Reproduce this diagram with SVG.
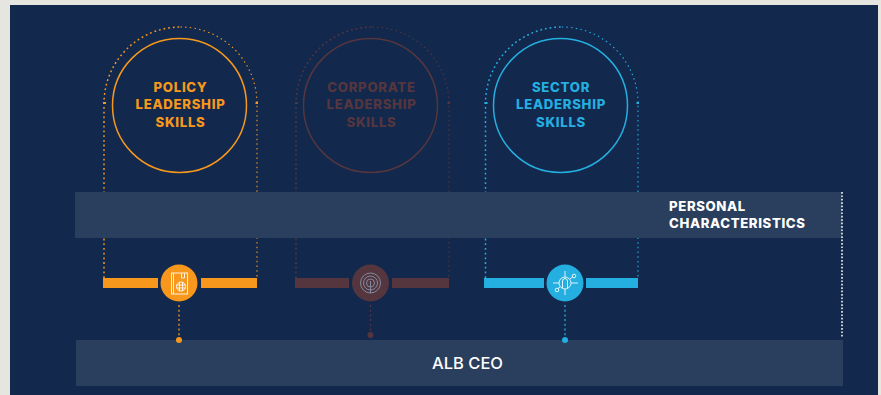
<svg xmlns="http://www.w3.org/2000/svg" width="881" height="395" viewBox="0 0 881 395">
<style>
.lbl{font-family:Inter,"Liberation Sans",Arial,sans-serif;font-weight:800;font-size:13.2px;letter-spacing:.7px;text-anchor:middle}
.side{font-family:Inter,"Liberation Sans",Arial,sans-serif;font-weight:800;font-size:13.2px;letter-spacing:.62px;fill:#fff}
.archL{fill:none;stroke-width:1.500;stroke-dasharray:1.800 2.900}
.archR{fill:none;stroke-width:1.100;stroke-dasharray:1.500 3.200}
.drop{fill:none;stroke-width:1.300;stroke-dasharray:2 2.700}
.ring{fill:none;stroke-width:1.500}
.ic{fill:none;stroke:#fff;stroke-width:1;opacity:.85}
.band{fill:#2a3f5d}
</style>
<rect width="881" height="395" fill="#e6e6e1"/>
<rect x="10" y="5" width="868" height="390" fill="#12284c"/>
<g id="connectors">
<path class="archL" stroke="#f7981d" d="M104 278V103.500A76.500 76.500 0 0 1 180.500 27"/>
<path class="archR" stroke="#f7981d" d="M180.500 27A76.500 76.500 0 0 1 257 103.500V278"/>
<rect x="103" y="102" width="3" height="2" fill="#f7981d"/><rect x="255.500" y="102" width="2.500" height="2" fill="#f7981d"/>
<path class="drop" stroke="#f7981d" d="M179 305V338"/>
<path class="archL" stroke="#55363f" d="M296 278V103.500A76.500 76.500 0 0 1 372.500 27"/>
<path class="archR" stroke="#55363f" d="M372.500 27A76.500 76.500 0 0 1 449 103.500V278"/>
<rect x="295" y="102" width="3" height="2" fill="#55363f"/><rect x="447.500" y="102" width="2.500" height="2" fill="#55363f"/>
<path class="drop" stroke="#55363f" d="M370.500 305V333"/>
<path class="archL" stroke="#25aee0" d="M485.500 278V103.500A76.250 76.250 0 0 1 561.750 27"/>
<path class="archR" stroke="#25aee0" d="M561.750 27A76.250 76.250 0 0 1 638 103.500V278"/>
<rect x="484.500" y="102" width="3" height="2" fill="#25aee0"/><rect x="636.500" y="102" width="2.500" height="2" fill="#25aee0"/>
<path class="drop" stroke="#25aee0" d="M565 305V338"/>
</g>
<g id="personal-characteristics">
<rect class="band" x="75" y="192" width="767" height="46"/>
<text class="side" x="669" y="211">PERSONAL</text>
<text class="side" x="669" y="228">CHARACTERISTICS</text>
</g>
<g id="alb-ceo">
<rect class="band" x="76" y="340" width="767" height="46"/>
<text x="467.500" y="369" font-family="Inter,Liberation Sans,Arial,sans-serif" font-weight="500" font-size="16.500" fill="#fff" text-anchor="middle">ALB CEO</text>
</g>
<g id="end-dots">
<circle cx="179" cy="340" r="3" fill="#f7981d"/>
<circle cx="370.500" cy="335" r="3" fill="#55363f"/>
<circle cx="565" cy="340" r="3" fill="#25aee0"/>
<path fill="none" stroke="#fff" stroke-width="1.500" stroke-dasharray="1.700 1.700" d="M842 192V338"/>
</g>
<g id="policy-leadership-skills">
<circle class="ring" cx="179.500" cy="105.500" r="67" stroke="#f7981d"/>
<g class="lbl" fill="#f7981d"><text x="180.500" y="92">POLICY</text><text x="180.500" y="109">LEADERSHIP</text><text x="180.500" y="127">SKILLS</text></g>
</g>
<g id="policy-icon">
<rect x="103" y="278" width="55" height="10" fill="#f7981d"/><rect x="201" y="278" width="56" height="10" fill="#f7981d"/>
<circle cx="179" cy="283" r="18.500" fill="#f7981d"/>
<rect class="ic" x="171.500" y="273" width="16" height="21"/><path class="ic" d="M173.500 273V294M181.500 273V278H184.500V273"/>
<circle class="ic" cx="181" cy="286.500" r="4.500"/><path class="ic" d="M176.500 285H185.500M176.500 288H185.500M179.500 282V291M182.500 282V291"/>
</g>
<g id="corporate-leadership-skills">
<circle class="ring" cx="370.500" cy="105.500" r="67" stroke="#55363f"/>
<g class="lbl" fill="#55363f"><text x="371.500" y="92">CORPORATE</text><text x="371.500" y="109">LEADERSHIP</text><text x="371.500" y="127">SKILLS</text></g>
</g>
<g id="corporate-icon">
<rect x="295" y="278" width="54" height="10" fill="#55363f"/><rect x="392" y="278" width="57" height="10" fill="#55363f"/>
<circle cx="370.500" cy="283" r="18.500" fill="#55363f"/>
<g fill="none" stroke="#7f8aa0" stroke-width="1"><circle cx="370.500" cy="283" r="10"/><circle cx="370.500" cy="283" r="7"/><circle cx="370.500" cy="283" r="4"/><path d="M370.500 281V293"/></g>
</g>
<g id="sector-leadership-skills">
<circle class="ring" cx="560.500" cy="105.500" r="67" stroke="#25aee0"/>
<g class="lbl" fill="#25aee0"><text x="561" y="92">SECTOR</text><text x="561" y="109">LEADERSHIP</text><text x="561" y="127">SKILLS</text></g>
</g>
<g id="sector-icon">
<rect x="484" y="278" width="60" height="10" fill="#25aee0"/><rect x="586" y="278" width="52" height="10" fill="#25aee0"/>
<circle cx="565" cy="283" r="18.500" fill="#25aee0"/>
<circle class="ic" cx="565" cy="283" r="6"/><path class="ic" d="M562.500 288V281A2.500 2.500 0 0 1 567.500 281V288M565 271V277M565 289V295M553 283H559M571 283H578M558 288.500L560 287M570 279L573 276.500"/>
<circle class="ic" cx="557" cy="290" r="1.800"/><circle class="ic" cx="574" cy="276" r="1.800"/>
</g>
</svg>
